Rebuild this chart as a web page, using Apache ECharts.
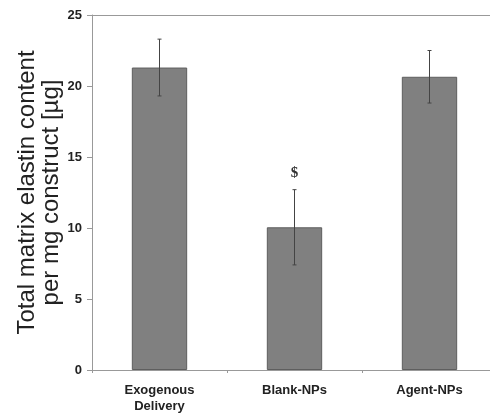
<!DOCTYPE html>
<html>
<head>
<meta charset="utf-8">
<script src="https://cdn.jsdelivr.net/npm/echarts@6/dist/echarts.min.js"></script>
<style>
  html, body { margin: 0; padding: 0; background: #fff; }
  #chart { width: 490px; height: 420px; }
</style>
</head>
<body>
<div id="chart"></div>
<script>
var categories = ['Exogenous\nDelivery', 'Blank-NPs', 'Agent-NPs'];
var means = [21.3, 10.05, 20.65];
var errors = [2.0, 2.65, 1.85];
var marks = ['', '$', ''];

var chart = echarts.init(document.getElementById('chart'));

var errData = means.map(function (m, i) {
  return [i, m - errors[i], m + errors[i], marks[i]];
});

var option = {
  animation: false,
  grid: { left: 92, top: 15, width: 405, height: 355, outerBoundsMode: 'none', containLabel: false },
  xAxis: [{
    type: 'category',
    data: categories,
    axisLine: { lineStyle: { color: '#999', width: 1 } },
    axisTick: { show: true, length: 3, lineStyle: { color: '#999' } },
    axisLabel: {
      color: '#222', fontFamily: 'Arial, Liberation Sans', fontWeight: 'bold',
      fontSize: 13, margin: 12, lineHeight: 16
    }
  }, {
    type: 'category',
    position: 'top',
    data: categories,
    axisLine: { lineStyle: { color: '#999', width: 1 } },
    axisTick: { show: false },
    axisLabel: { show: false }
  }],
  yAxis: {
    type: 'value',
    min: 0, max: 25, interval: 5,
    name: 'Total matrix elastin content\nper mg construct [µg]',
    nameLocation: 'middle',
    nameGap: 29,
    nameMoveOverlap: false,
    nameTextStyle: {
      color: '#222', fontFamily: 'Arial, Liberation Sans', fontSize: 24, lineHeight: 24
    },
    axisLine: { show: true, lineStyle: { color: '#999', width: 1 } },
    axisTick: { show: true, length: 5, lineStyle: { color: '#999' } },
    axisLabel: {
      color: '#222', fontFamily: 'Arial, Liberation Sans', fontWeight: 'bold',
      fontSize: 13, margin: 10
    },
    splitLine: { show: false }
  },
  series: [{
    type: 'bar',
    data: means,
    barWidth: '41%',
    itemStyle: { color: '#808080', borderColor: '#5e5e5e', borderWidth: 1 }
  }, {
    type: 'custom',
    data: errData,
    z: 10,
    renderItem: function (params, api) {
      var x = api.value(0);
      var lo = api.coord([x, api.value(1)]);
      var hi = api.coord([x, api.value(2)]);
      var cap = 2;
      var style = { stroke: '#444', lineWidth: 1 };
      var children = [
        { type: 'line', shape: { x1: lo[0], y1: lo[1], x2: hi[0], y2: hi[1] }, style: style },
        { type: 'line', shape: { x1: lo[0] - cap, y1: lo[1], x2: lo[0] + cap, y2: lo[1] }, style: style },
        { type: 'line', shape: { x1: hi[0] - cap, y1: hi[1], x2: hi[0] + cap, y2: hi[1] }, style: style }
      ];
      var mark = marks[params.dataIndex];
      if (mark) {
        children.push({
          type: 'text',
          x: hi[0], y: hi[1] - 9,
          style: {
            text: mark, fill: '#333', font: 'bold 15px "Liberation Serif", "DejaVu Serif", serif',
            align: 'center', verticalAlign: 'bottom'
          }
        });
      }
      return { type: 'group', children: children };
    }
  }]
};

chart.setOption(option);
</script>
</body>
</html>
